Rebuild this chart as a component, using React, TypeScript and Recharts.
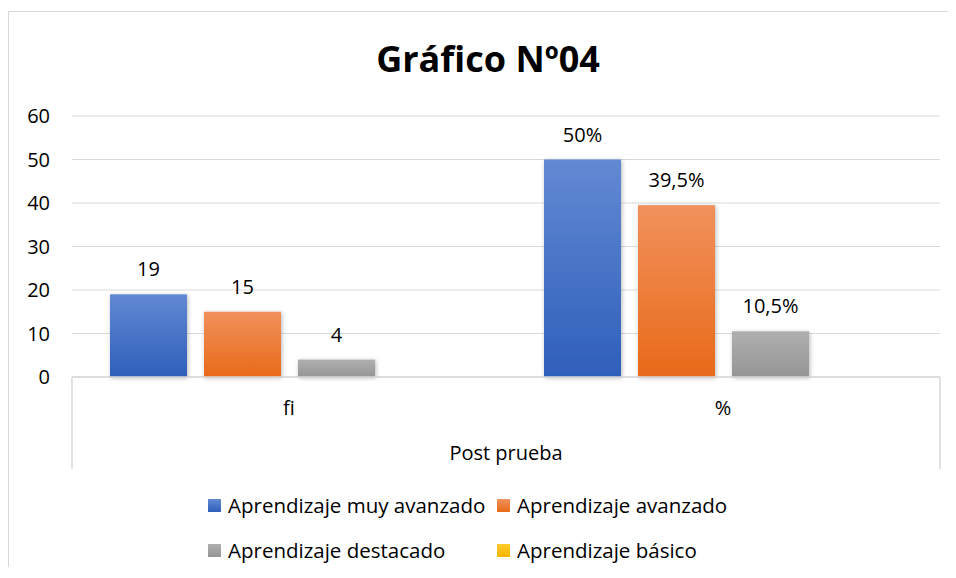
import React from 'react';
import { BarChart, Bar, XAxis, YAxis, CartesianGrid, LabelList, Legend } from 'recharts';

const title = 'Gráfico Nº04';
const categories = ['fi', '%'];
const groupLabel = 'Post prueba';
const muyAvanzado: (number | null)[] = [19, 50];
const avanzado: (number | null)[] = [15, 39.5];
const destacado: (number | null)[] = [4, 10.5];
const basico: (number | null)[] = [null, null];
const yTicks = [0, 10, 20, 30, 40, 50, 60];

const series = [
  { key: 'muy', name: 'Aprendizaje muy avanzado', values: muyAvanzado, top: '#6289d3', bottom: '#2e5fba' },
  { key: 'ava', name: 'Aprendizaje avanzado', values: avanzado, top: '#f1915c', bottom: '#e86a19' },
  { key: 'des', name: 'Aprendizaje destacado', values: destacado, top: '#afafaf', bottom: '#959595' },
  { key: 'bas', name: 'Aprendizaje básico', values: basico, top: '#ffcb2e', bottom: '#f2b500' },
];

const FONT = '"Open Sans", sans-serif';
const GRID = '#d9d9d9';

const fmt = (cat: string, v: number | null) =>
  v == null ? '' : cat === '%' ? `${String(v).replace('.', ',')}%` : String(v);

const data = categories.map((cat, i) => {
  const row: any = { cat };
  series.forEach((s) => {
    row[s.key] = s.values[i];
    row[s.key + 'Label'] = fmt(cat, s.values[i]);
  });
  return row;
});

const XTick = (props: any) => {
  const { x, y, payload } = props;
  return (
    <text x={x} y={y + 38} textAnchor="middle" fontSize={20} fontFamily={FONT} fill="#000">
      {payload.value}
    </text>
  );
};

const AxisFrame = (props: any) => {
  const vb = props.viewBox || {};
  const { x, y, width, height } = vb;
  if (x == null) return null;
  return (
    <g>
      <line x1={x} y1={y} x2={x} y2={y + height} stroke={GRID} strokeWidth={1.5} />
      <line x1={x + width} y1={y} x2={x + width} y2={y + height} stroke={GRID} strokeWidth={1.5} />
      <text x={x + width / 2} y={y + 83} textAnchor="middle" fontSize={20} fontFamily={FONT} fill="#000">
        {groupLabel}
      </text>
    </g>
  );
};

const BarShape = (props: any) => {
  const { x, y, width, height, fill } = props;
  if (!height || height <= 0) return null;
  return <rect x={x} y={y} width={width} height={height} fill={fill} filter="url(#barShadow)" />;
};

const LegendContent = () => (
  <div style={{ fontFamily: FONT, fontSize: 20.5, color: '#000' }}>
    {[[0, 1], [2, 3]].map((row, ri) => (
      <div key={ri} style={{ display: 'flex', height: 45, alignItems: 'center' }}>
        {row.map((i) => {
          const s = series[i];
          return (
            <div key={s.key} style={{ width: 289, display: 'flex', alignItems: 'center', whiteSpace: 'nowrap' }}>
              <span
                style={{
                  display: 'inline-block',
                  width: 13,
                  height: 13,
                  marginRight: 7,
                  background: `linear-gradient(${s.top}, ${s.bottom})`,
                }}
              />
              <span>{s.name}</span>
            </div>
          );
        })}
      </div>
    ))}
  </div>
);

export default function App() {
  return (
    <div style={{ position: 'relative', top: 3, width: 940, height: 559 }}>
      <div
        style={{
          position: 'absolute',
          left: 0,
          top: 30,
          width: 960,
          textAlign: 'center',
          fontFamily: FONT,
          fontWeight: 700,
          fontSize: 36,
          lineHeight: '36px',
          color: '#000',
          zIndex: 2,
        }}
      >
        {title}
      </div>
      <BarChart
        width={940}
        height={559}
        data={data}
        margin={{ top: 105, right: 8, left: 0, bottom: 101 }}
        barCategoryGap={38}
        barGap={17}
      >
        <defs>
          {series.map((s) => (
            <linearGradient key={s.key} id={`grad-${s.key}`} x1="0" y1="0" x2="0" y2="1">
              <stop offset="0%" stopColor={s.top} />
              <stop offset="100%" stopColor={s.bottom} />
            </linearGradient>
          ))}
          <filter id="barShadow" x="-20%" y="-20%" width="140%" height="140%">
            <feDropShadow dx="1" dy="1" stdDeviation="2" floodColor="#000" floodOpacity="0.28" />
          </filter>
        </defs>
        <CartesianGrid vertical={false} stroke={GRID} strokeWidth={1.2} />
        <XAxis
          dataKey="cat"
          height={92}
          tickSize={0}
          tickMargin={0}
          tickLine={false}
          axisLine={{ stroke: GRID, strokeWidth: 1.5 }}
          tick={<XTick />}
          interval={0}
          label={{ content: (p: any) => <AxisFrame {...p} /> }}
        />
        <YAxis
          domain={[0, 60]}
          ticks={yTicks}
          width={64}
          tickLine={false}
          axisLine={false}
          tickMargin={16}
          tick={{ fontSize: 20, fontFamily: FONT, fill: '#000' }}
          interval={0}
        />
        <Legend
          layout="vertical"
          align="center"
          verticalAlign="middle"
          content={<LegendContent />}
          wrapperStyle={{ left: 200, top: 471.5, width: 620, height: 90 }}
        />
        {series.map((s) => (
          <Bar
            key={s.key}
            dataKey={s.key}
            name={s.name}
            fill={`url(#grad-${s.key})`}
            isAnimationActive={false}
            shape={<BarShape />}
          >
            <LabelList
              dataKey={s.key + 'Label'}
              position="top"
              offset={18}
              style={{ fontSize: 20, fontFamily: FONT, fill: '#000' }}
            />
          </Bar>
        ))}
      </BarChart>
      <div
        style={{
          position: 'absolute',
          left: 0,
          top: 0,
          width: 940,
          height: 559,
          borderLeft: `1px solid ${GRID}`,
          borderTop: `1px solid ${GRID}`,
          pointerEvents: 'none',
          boxSizing: 'border-box',
        }}
      />
    </div>
  );
}
